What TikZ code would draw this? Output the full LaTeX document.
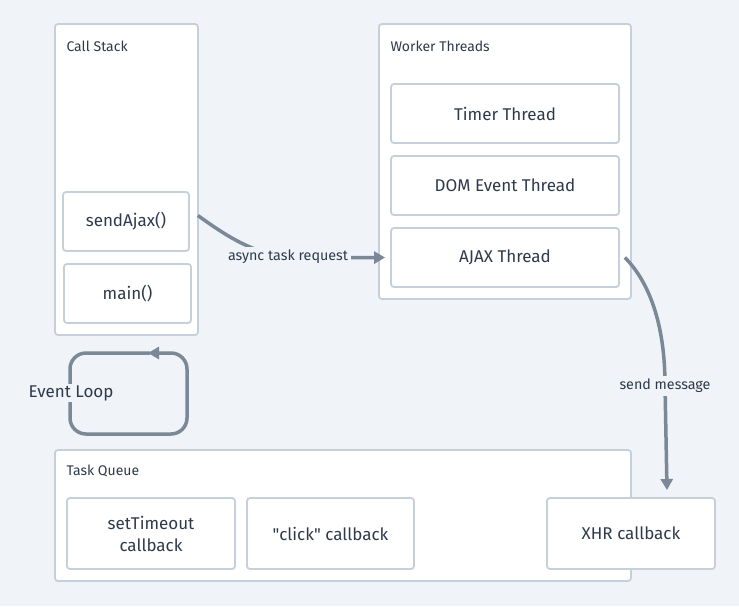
\documentclass[tikz,border=0pt]{standalone}
\usepackage{fontspec}
\setmainfont{Fira Sans}[Ligatures=TeXOff]
\usetikzlibrary{arrows.meta}
\definecolor{bg}{HTML}{F0F3F7}
\definecolor{bd}{HTML}{C5D0DB}
\definecolor{ar}{HTML}{7B8898}
\definecolor{tx}{HTML}{2E3A4B}
\tikzset{
  panel/.style={draw=bd, line width=1.8pt, fill=white, rounded corners=3pt},
  item/.style={draw=bd, line width=1.8pt, fill=white, rounded corners=3pt, font=\fontsize{17}{22}\selectfont, text=tx, align=center},
  ptitle/.style={anchor=west, font=\fontsize{14}{17}\selectfont, text=tx},
  conn/.style={draw=ar, line width=3.5pt, -{Triangle[length=11pt,width=12pt]}},
  clabel/.style={fill=bg, text=tx, font=\fontsize{14.3}{17}\selectfont, inner sep=3pt},
}
\begin{document}
\begin{tikzpicture}[x=1pt,y=-1pt]
\useasboundingbox[fill=bg] (0,0) rectangle (739,606);
% panels
\draw[panel] (55,24) rectangle (198,335);
\node[ptitle] (cst) at (63,46) {Call Stack};
\draw[panel] (379,24) rectangle (631,299);
\node[ptitle] (wth) at (387,46) {Worker Threads};
\draw[panel] (55,450) rectangle (631,581);
\node[ptitle] (tqt) at (63,471) {Task Queue};
% items
\node[item, minimum width=126pt, minimum height=59pt] (send) at (126,221.5) {sendAjax()};
\node[item, minimum width=127pt, minimum height=59pt] (main) at (127.5,293.5) {main()};
\node[item, minimum width=228pt, minimum height=59pt] (timer) at (505,113.5) {Timer Thread};
\node[item, minimum width=228pt, minimum height=59pt] (dom) at (505,185.5) {DOM Event Thread};
\node[item, minimum width=228pt, minimum height=59pt] (ajax) at (505,257.5) {AJAX Thread};
\node[item, minimum width=168pt, minimum height=71pt] (sett) at (151,533.5) {setTimeout\\callback};
\node[item, minimum width=167pt, minimum height=71pt] (click) at (330.5,533.5) {"click" callback};
\node[item, minimum width=168pt, minimum height=71pt] (xhr) at (631,533.5) {XHR callback};
% async task request
\coordinate (s1) at ([xshift=8pt,yshift=6pt]send.east);
\coordinate (a1) at ([xshift=-5pt]ajax.west);
\draw[conn] (s1) .. controls (240,246) and (265,258) .. (310,258) -- (a1);
\node[clabel] (lab1) at (288,257) {async task request};
% send message
\coordinate (s2) at ([xshift=5pt]ajax.east);
\coordinate (x2) at (667,490);
\draw[conn] (s2) .. controls (652,285) and (665,330) .. (665,385) -- (x2);
\node[clabel] (lab2) at (665,386) {send message};
% event loop
\coordinate (el) at (148,353);
\draw[draw=ar, line width=3.5pt, rounded corners=16pt, -{Triangle[length=11pt,width=12pt]}]
  (150,353) -- (70,353) -- (70,434) -- (187,434) -- (187,353) -- (el);
\node[clabel, font=\fontsize{17}{20}\selectfont, inner sep=1pt] (evl) at (71,393) {Event Loop};
\end{tikzpicture}
\end{document}
